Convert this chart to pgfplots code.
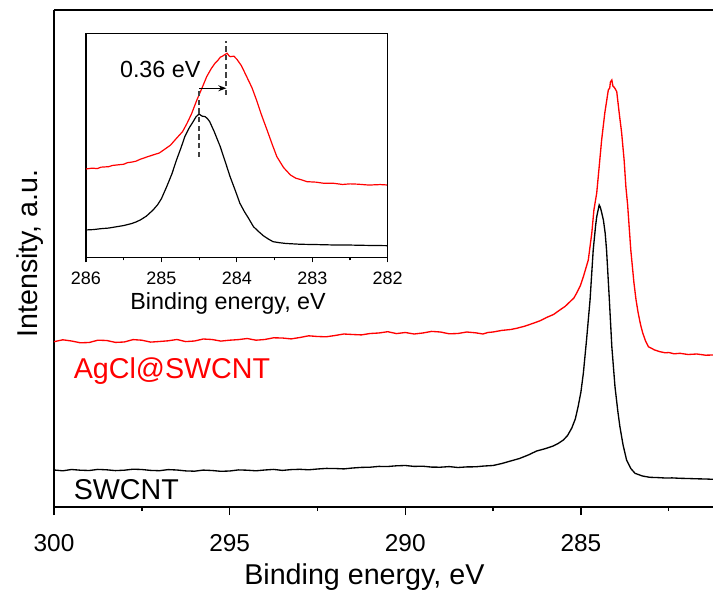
\documentclass[border=0pt]{standalone}
\usepackage{fontspec}
\setmainfont{Liberation Sans}
\usepackage{pgfplots}
\pgfplotsset{compat=1.18}
\usetikzlibrary{arrows.meta}

\begin{document}
\begin{tikzpicture}
% 1 px of the reference = 0.75pt
\begin{axis}[
    name=main,
    at={(0,0)}, anchor=south west,
    scale only axis,
    width=494.25pt, height=372.75pt,
    x dir=reverse,
    xmin=281.24, xmax=300,
    ymin=0, ymax=497,
    axis x line*=bottom, axis y line*=left,
    axis line style={line width=1.1pt},
    xtick={285,290,295,300},
    minor xtick={282.5,287.5,292.5,297.5},
    ytick=\empty,
    tick align=outside,
    major tick length=6pt, minor tick length=3pt,
    tick style={line width=1.1pt, black},
    /pgf/number format/assume math mode=true,
    xticklabel style={font=\fontsize{18.3}{20}\selectfont, anchor=base, yshift=-27pt},
    every axis x label/.style={at={(axis description cs:0.471,0)}, anchor=base, yshift=-58pt,
        font=\fontsize{21.5}{24}\selectfont},
    every axis y label/.style={at={(axis description cs:0,0.51)}, xshift=-12.5pt, rotate=90, anchor=base,
        font=\fontsize{21.5}{24}\selectfont},
    xlabel={Binding energy, eV},
    ylabel={Intensity, a.u.},
]
% SWCNT
\addplot[black, line width=1pt] coordinates {
(300.00,37) (299.75,36.2) (299.5,37.5) (299.25,36.8) (299.0,36.5) (298.75,37.6) (298.5,37.2)
(298.25,36.4) (298.0,36.8) (297.75,37.8) (297.5,37.5) (297.25,36.6) (297.0,36.3) (296.75,37.4)
(296.5,37.0) (296.25,36.1) (296.0,35.8) (295.75,36.9) (295.5,36.5) (295.25,35.7) (295.0,36.0)
(294.75,37.1) (294.5,36.8) (294.25,36.2) (294.0,37.0) (293.75,37.6) (293.5,36.6) (293.25,37.4)
(293.0,37.7) (292.75,37.2) (292.5,38.0) (292.25,38.6) (292.0,38.5) (291.75,38.1) (291.5,39.0)
(291.25,39.6) (291.0,39.8) (290.75,40.6) (290.5,40.5) (290.25,41.2) (290.0,41.5) (289.75,40.6)
(289.5,40.8) (289.25,39.9) (289.0,39.8) (288.75,40.4) (288.5,39.5) (288.25,40.1) (288.0,40.2)
(287.75,41.0) (287.5,41.5) (287.25,43.5) (287.0,46) (286.75,48.5) (286.5,52) (286.26,56)
(286.0,58.5) (285.79,61) (285.65,63.5) (285.50,67) (285.38,71.5) (285.26,79) (285.16,88)
(285.08,100.3) (285.0,115) (284.93,134) (284.84,167) (284.74,207) (284.65,257) (284.58,282)
(284.55,290.3) (284.48,302) (284.45,300) (284.42,296) (284.36,287) (284.31,274) (284.27,257)
(284.19,207) (284.12,160.3) (284.03,120.3) (283.95,96) (283.89,80.3) (283.80,62) (283.70,47)
(283.58,38.5) (283.46,33.7) (283.25,31) (283.04,29.7) (282.8,29.4) (282.6,29) (282.4,29.1)
(282.18,28.7) (281.95,28.5) (281.7,28.2) (281.45,28.0) (281.24,27.7)
};
% AgCl@SWCNT
\addplot[red, line width=1pt] coordinates {
(300.00,165.3) (299.75,167.2) (299.5,166) (299.25,164.2) (299.0,164.5) (298.75,166.8) (298.5,166.5)
(298.25,164.6) (298.0,165) (297.75,167.4) (297.5,166.8) (297.25,164.9) (297.0,165.5) (296.75,166.2)
(296.5,167.5) (296.25,165.4) (296.0,166) (295.75,168.0) (295.5,167.5) (295.25,165.9) (295.0,166.8)
(294.75,167.4) (294.5,168.5) (294.25,166.8) (294.0,167.5) (293.75,169.2) (293.5,169) (293.25,168.1)
(293.0,169.5) (292.75,171.2) (292.5,170.5) (292.25,170.2) (292.0,171.5) (291.75,173.0) (291.5,172.5)
(291.25,172.1) (291.0,173.5) (290.75,174.0) (290.5,175.3) (290.25,173.4) (290.0,174.5) (289.75,173.0)
(289.5,174) (289.25,175.6) (289.0,175) (288.75,173.2) (288.5,173.5) (288.25,175.0) (288.0,174.2)
(287.79,173) (287.65,174.5) (287.5,175) (287.25,176.6) (287.0,177.5) (286.83,178.7) (286.6,180.8)
(286.36,183.7) (286.15,186.4) (285.98,189.5) (285.78,192.5) (285.60,197) (285.45,200.6) (285.31,205.3)
(285.20,209) (285.12,214) (285.02,221) (284.93,230.3) (284.79,247) (284.69,274) (284.63,297)
(284.55,314) (284.48,340.3) (284.41,367) (284.32,394) (284.22,417) (284.18,419) (284.16,425)
(284.12,427) (284.09,421) (284.06,420) (284.02,418) (283.98,415.3) (283.91,394) (283.84,374)
(283.77,347) (283.72,320.3) (283.67,302) (283.58,257) (283.49,224) (283.43,207) (283.37,194)
(283.30,182) (283.24,174) (283.16,166) (283.08,160.3) (282.9,157) (282.75,155.3) (282.6,154.2)
(282.5,154.5) (282.35,153.2) (282.18,153.7) (281.95,152.5) (281.7,153) (281.45,151.8) (281.24,152)
};
\draw[line width=1.1pt] (rel axis cs:0,1) -- (rel axis cs:1,1);
\node[anchor=base west, text=red, font=\fontsize{21.5}{24}\selectfont] at (axis cs:299.57,129) {AgCl@SWCNT};
\node[anchor=base west, text=black, font=\fontsize{21.5}{24}\selectfont] at (axis cs:299.57,7.7) {SWCNT};
\end{axis}

% inset
\begin{axis}[
    at={(24pt,187pt)}, anchor=south west,
    scale only axis,
    width=226.3pt, height=168pt,
    x dir=reverse,
    xmin=282, xmax=286,
    ymin=0, ymax=224,
    axis line style={line width=0.9pt},
    xtick={282,283,284,285,286},
    minor xtick={282.5,283.5,284.5,285.5},
    xtick pos=bottom,
    ytick=\empty,
    tick align=outside,
    major tick length=3.5pt, minor tick length=2pt,
    tick style={line width=0.9pt, black},
    /pgf/number format/assume math mode=true,
    xticklabel style={font=\fontsize{13.5}{15}\selectfont, anchor=base, yshift=-16.7pt},
    every axis x label/.style={at={(axis description cs:0.471,0)}, anchor=base, yshift=-39pt,
        font=\fontsize{17.5}{20}\selectfont},
    xlabel={Binding energy, eV},
]
\addplot[black, line width=0.9pt] coordinates {
(286.00,27.7) (285.9,28.1) (285.8,29) (285.7,29.6) (285.59,31) (285.5,32.1) (285.4,34)
(285.34,35.6) (285.28,37.7) (285.2,41.5) (285.11,47.7) (285.05,53) (285.0,59) (284.93,71)
(284.86,84) (284.80,97.7) (284.74,110) (284.69,121) (284.63,130) (284.58,136) (284.54,141)
(284.50,143.7) (284.48,142.5) (284.46,141.5) (284.42,141) (284.39,139) (284.36,136) (284.30,126)
(284.22,111) (284.15,95) (284.09,81) (284.02,67) (283.96,54.4) (283.90,46) (283.85,40)
(283.78,31) (283.71,26) (283.65,22) (283.58,18.5) (283.52,16) (283.44,15) (283.35,14.2)
(283.16,13.4) (282.95,13.1) (282.72,12.7) (282.5,12.6) (282.3,12.3) (282.01,12)
};
\addplot[red, line width=0.9pt] coordinates {
(286.00,88.7) (285.92,89.5) (285.85,89.1) (285.8,90.5) (285.7,91.0) (285.65,92.2) (285.59,92.7)
(285.5,93.4) (285.45,95.0) (285.4,95.5) (285.34,96.4) (285.28,98.4) (285.2,100.5) (285.1,103)
(285.03,104.6) (284.97,107.7) (284.88,112.5) (284.80,119.4) (284.72,126) (284.66,134.4) (284.60,144)
(284.53,157.7) (284.46,170) (284.40,181) (284.34,189) (284.29,194.4) (284.25,197.5) (284.22,200.4)
(284.19,201.5) (284.16,203) (284.13,204.4) (284.10,201.5) (284.08,201) (284.04,201.5) (284.00,198.4)
(283.94,192) (283.87,181) (283.80,170) (283.74,157.7) (283.67,142) (283.60,127.7) (283.53,113)
(283.47,101) (283.38,90) (283.29,82.7) (283.22,79.5) (283.15,78) (283.07,76) (282.95,75.5)
(282.85,74.4) (282.72,74.4) (282.6,73.2) (282.5,73.8) (282.4,73.5) (282.25,72.6) (282.1,73.1) (282.01,72.7)
};
\draw[black!75, line width=1.3pt, dash pattern=on 4pt off 2.5pt] (axis cs:284.5,100.7) -- (axis cs:284.5,169.7);
\draw[black!75, line width=1.3pt, dash pattern=on 4pt off 2.5pt] (axis cs:284.14,162.7) -- (axis cs:284.14,217);
\draw[black, line width=0.8pt, -{Stealth[length=6pt,width=4.5pt]}] (axis cs:284.5,169.4) -- (axis cs:284.14,169.4);
\node[anchor=base east, font=\fontsize{17.5}{20}\selectfont] at (axis cs:284.42,180.4) {0.36 eV};
\end{axis}

\pgfresetboundingbox
\useasboundingbox (-40.5pt,-63.75pt) rectangle (494.25pt,380.25pt);
\end{tikzpicture}
\end{document}
